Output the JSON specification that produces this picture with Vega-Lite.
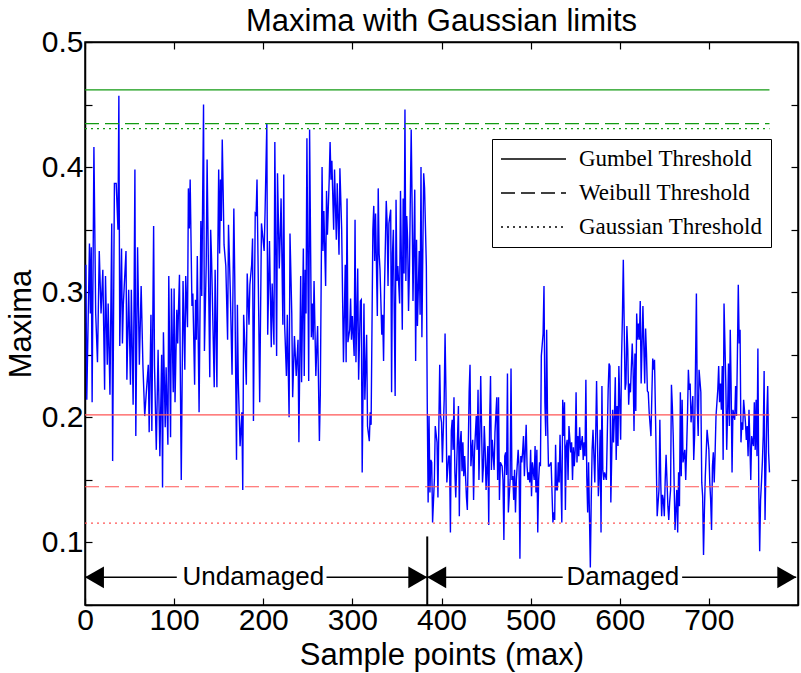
{
  "$schema": "https://vega.github.io/schema/vega-lite/v6.json",
  "width": 713,
  "height": 563,
  "autosize": "none",
  "padding": {"left": 85, "top": 42, "right": 3, "bottom": 68},
  "background": "white",
  "title": {"text": "Maxima with Gaussian limits", "fontSize": 31, "font": "Liberation Sans", "fontWeight": "normal", "color": "black", "offset": -11},
  "config": {
    "view": {"stroke": "black", "strokeWidth": 1.5},
    "axis": {"domainColor": "black", "domainWidth": 1.5, "tickColor": "black", "tickSize": -7, "tickWidth": 1.2, "labelFont": "Liberation Sans", "labelFontSize": 30, "labelColor": "black", "titleFont": "Liberation Sans", "titleFontSize": 31, "titleFontWeight": "normal", "titleColor": "black", "grid": false, "labelOverlap": false, "labelFlush": false}
  },
  "datasets": {
    "series": [
{"x":1,"y":0.322},{"x":2,"y":0.214},{"x":5,"y":0.339},{"x":6,"y":0.283},{"x":7,"y":0.336},{"x":8,"y":0.212},{"x":10,"y":0.416},{"x":12,"y":0.283},{"x":14,"y":0.244},{"x":16,"y":0.333},{"x":18,"y":0.283},{"x":20,"y":0.318},{"x":22,"y":0.222},{"x":23,"y":0.313},{"x":25,"y":0.242},{"x":26,"y":0.291},{"x":28,"y":0.218},{"x":30,"y":0.355},{"x":31,"y":0.165},{"x":33,"y":0.387},{"x":35,"y":0.387},{"x":37,"y":0.350},{"x":38,"y":0.457},{"x":39,"y":0.257},{"x":41,"y":0.335},{"x":42,"y":0.259},{"x":43,"y":0.290},{"x":46,"y":0.333},{"x":47,"y":0.230},{"x":49,"y":0.302},{"x":51,"y":0.226},{"x":52,"y":0.302},{"x":54,"y":0.210},{"x":55,"y":0.289},{"x":56,"y":0.398},{"x":57,"y":0.185},{"x":59,"y":0.336},{"x":61,"y":0.242},{"x":63,"y":0.305},{"x":65,"y":0.241},{"x":67,"y":0.201},{"x":69,"y":0.222},{"x":71,"y":0.242},{"x":72,"y":0.188},{"x":74,"y":0.282},{"x":75,"y":0.189},{"x":77,"y":0.353},{"x":78,"y":0.241},{"x":80,"y":0.174},{"x":82,"y":0.254},{"x":84,"y":0.169},{"x":86,"y":0.250},{"x":87,"y":0.144},{"x":88,"y":0.268},{"x":90,"y":0.192},{"x":91,"y":0.240},{"x":93,"y":0.178},{"x":94,"y":0.313},{"x":96,"y":0.184},{"x":97,"y":0.303},{"x":99,"y":0.220},{"x":100,"y":0.303},{"x":101,"y":0.212},{"x":103,"y":0.286},{"x":104,"y":0.259},{"x":105,"y":0.289},{"x":106,"y":0.314},{"x":108,"y":0.150},{"x":110,"y":0.309},{"x":112,"y":0.238},{"x":113,"y":0.313},{"x":115,"y":0.272},{"x":116,"y":0.383},{"x":117,"y":0.351},{"x":118,"y":0.390},{"x":120,"y":0.289},{"x":121,"y":0.299},{"x":123,"y":0.226},{"x":124,"y":0.294},{"x":125,"y":0.262},{"x":126,"y":0.329},{"x":128,"y":0.204},{"x":130,"y":0.357},{"x":131,"y":0.297},{"x":133,"y":0.450},{"x":134,"y":0.253},{"x":136,"y":0.322},{"x":137,"y":0.406},{"x":140,"y":0.232},{"x":141,"y":0.350},{"x":142,"y":0.327},{"x":145,"y":0.224},{"x":146,"y":0.318},{"x":148,"y":0.224},{"x":149,"y":0.331},{"x":150,"y":0.398},{"x":151,"y":0.331},{"x":152,"y":0.390},{"x":153,"y":0.357},{"x":154,"y":0.422},{"x":155,"y":0.381},{"x":156,"y":0.338},{"x":158,"y":0.321},{"x":160,"y":0.262},{"x":161,"y":0.354},{"x":163,"y":0.302},{"x":165,"y":0.234},{"x":167,"y":0.367},{"x":168,"y":0.313},{"x":170,"y":0.166},{"x":171,"y":0.290},{"x":172,"y":0.229},{"x":174,"y":0.177},{"x":176,"y":0.204},{"x":177,"y":0.142},{"x":178,"y":0.282},{"x":180,"y":0.248},{"x":181,"y":0.226},{"x":182,"y":0.315},{"x":184,"y":0.274},{"x":185,"y":0.306},{"x":187,"y":0.322},{"x":188,"y":0.343},{"x":189,"y":0.197},{"x":191,"y":0.363},{"x":192,"y":0.362},{"x":193,"y":0.390},{"x":195,"y":0.277},{"x":196,"y":0.212},{"x":198,"y":0.355},
{"x":201,"y":0.333},{"x":202,"y":0.363},{"x":204,"y":0.435},{"x":205,"y":0.266},{"x":207,"y":0.341},{"x":209,"y":0.256},{"x":210,"y":0.307},{"x":212,"y":0.258},{"x":213,"y":0.420},{"x":215,"y":0.249},{"x":216,"y":0.395},{"x":218,"y":0.319},{"x":219,"y":0.345},{"x":220,"y":0.375},{"x":222,"y":0.274},{"x":223,"y":0.394},{"x":224,"y":0.274},{"x":226,"y":0.233},{"x":227,"y":0.282},{"x":229,"y":0.200},{"x":230,"y":0.347},{"x":232,"y":0.283},{"x":233,"y":0.216},{"x":235,"y":0.265},{"x":237,"y":0.233},{"x":239,"y":0.262},{"x":240,"y":0.180},{"x":242,"y":0.313},{"x":243,"y":0.228},{"x":245,"y":0.335},{"x":246,"y":0.233},{"x":247,"y":0.318},{"x":248,"y":0.283},{"x":249,"y":0.423},{"x":251,"y":0.229},{"x":252,"y":0.430},{"x":254,"y":0.264},{"x":255,"y":0.291},{"x":256,"y":0.262},{"x":257,"y":0.309},{"x":259,"y":0.233},{"x":260,"y":0.254},{"x":261,"y":0.273},{"x":263,"y":0.181},{"x":264,"y":0.218},{"x":266,"y":0.400},{"x":267,"y":0.333},{"x":268,"y":0.365},{"x":270,"y":0.305},{"x":271,"y":0.381},{"x":272,"y":0.346},{"x":274,"y":0.390},{"x":275,"y":0.420},{"x":276,"y":0.390},{"x":277,"y":0.405},{"x":279,"y":0.350},{"x":280,"y":0.398},{"x":282,"y":0.342},{"x":283,"y":0.387},{"x":285,"y":0.330},{"x":286,"y":0.399},{"x":288,"y":0.350},{"x":290,"y":0.244},{"x":292,"y":0.322},{"x":293,"y":0.244},{"x":294,"y":0.375},{"x":295,"y":0.260},{"x":297,"y":0.270},{"x":298,"y":0.295},{"x":299,"y":0.262},{"x":300,"y":0.281},{"x":302,"y":0.249},{"x":303,"y":0.358},{"x":304,"y":0.244},{"x":306,"y":0.319},{"x":307,"y":0.230},{"x":309,"y":0.293},{"x":310,"y":0.294},{"x":311,"y":0.156},{"x":313,"y":0.291},{"x":314,"y":0.214},{"x":316,"y":0.266},{"x":317,"y":0.193},{"x":319,"y":0.181},{"x":320,"y":0.204},{"x":321,"y":0.194},{"x":323,"y":0.350},{"x":324,"y":0.369},{"x":325,"y":0.325},{"x":326,"y":0.363},{"x":328,"y":0.281},{"x":329,"y":0.383},{"x":330,"y":0.331},{"x":331,"y":0.318},{"x":333,"y":0.266},{"x":334,"y":0.282},{"x":335,"y":0.245},{"x":336,"y":0.302},{"x":338,"y":0.373},{"x":339,"y":0.355},{"x":340,"y":0.305},{"x":341,"y":0.355},{"x":343,"y":0.366},{"x":344,"y":0.220},{"x":345,"y":0.331},{"x":346,"y":0.350},{"x":348,"y":0.217},{"x":349,"y":0.374},{"x":350,"y":0.309},{"x":351,"y":0.321},{"x":353,"y":0.291},{"x":354,"y":0.381},{"x":356,"y":0.270},{"x":357,"y":0.375},{"x":358,"y":0.315},{"x":359,"y":0.446},{"x":360,"y":0.309},{"x":361,"y":0.361},{"x":362,"y":0.342},{"x":363,"y":0.285},{"x":364,"y":0.317},{"x":366,"y":0.430},{"x":367,"y":0.371},{"x":368,"y":0.293},{"x":370,"y":0.382},{"x":371,"y":0.245},{"x":372,"y":0.342},{"x":373,"y":0.273},{"x":375,"y":0.333},{"x":376,"y":0.282},{"x":377,"y":0.400},{"x":378,"y":0.264},{"x":380,"y":0.395},{"x":381,"y":0.383},{"x":383,"y":0.321},{"x":384,"y":0.212},
{"x":385,"y":0.132},{"x":386,"y":0.201},{"x":387,"y":0.140},{"x":388,"y":0.166},{"x":389,"y":0.164},{"x":390,"y":0.116},{"x":392,"y":0.150},{"x":393,"y":0.193},{"x":395,"y":0.180},{"x":396,"y":0.136},{"x":397,"y":0.193},{"x":398,"y":0.242},{"x":399,"y":0.201},{"x":400,"y":0.196},{"x":401,"y":0.164},{"x":403,"y":0.214},{"x":404,"y":0.267},{"x":405,"y":0.220},{"x":406,"y":0.148},{"x":408,"y":0.169},{"x":409,"y":0.169},{"x":410,"y":0.108},{"x":411,"y":0.189},{"x":412,"y":0.198},{"x":413,"y":0.174},{"x":414,"y":0.216},{"x":415,"y":0.156},{"x":416,"y":0.136},{"x":418,"y":0.185},{"x":419,"y":0.209},{"x":420,"y":0.121},{"x":421,"y":0.180},{"x":422,"y":0.189},{"x":423,"y":0.157},{"x":424,"y":0.180},{"x":425,"y":0.153},{"x":426,"y":0.169},{"x":428,"y":0.136},{"x":429,"y":0.126},{"x":430,"y":0.174},{"x":431,"y":0.220},{"x":432,"y":0.242},{"x":433,"y":0.161},{"x":434,"y":0.174},{"x":435,"y":0.182},{"x":436,"y":0.134},{"x":437,"y":0.172},{"x":439,"y":0.201},{"x":440,"y":0.174},{"x":441,"y":0.222},{"x":442,"y":0.150},{"x":443,"y":0.184},{"x":444,"y":0.233},{"x":446,"y":0.148},{"x":447,"y":0.161},{"x":448,"y":0.193},{"x":449,"y":0.174},{"x":450,"y":0.142},{"x":452,"y":0.177},{"x":453,"y":0.114},{"x":454,"y":0.196},{"x":455,"y":0.233},{"x":456,"y":0.158},{"x":457,"y":0.182},{"x":459,"y":0.158},{"x":460,"y":0.188},{"x":462,"y":0.216},{"x":463,"y":0.150},{"x":464,"y":0.216},{"x":465,"y":0.134},{"x":466,"y":0.164},{"x":468,"y":0.161},{"x":469,"y":0.150},{"x":470,"y":0.102},{"x":471,"y":0.169},{"x":472,"y":0.172},{"x":473,"y":0.154},{"x":474,"y":0.235},{"x":475,"y":0.124},{"x":477,"y":0.150},{"x":478,"y":0.239},{"x":479,"y":0.150},{"x":480,"y":0.153},{"x":481,"y":0.134},{"x":482,"y":0.158},{"x":483,"y":0.124},{"x":484,"y":0.150},{"x":486,"y":0.174},{"x":487,"y":0.161},{"x":488,"y":0.087},{"x":489,"y":0.169},{"x":490,"y":0.164},{"x":491,"y":0.172},{"x":492,"y":0.185},{"x":493,"y":0.153},{"x":495,"y":0.194},{"x":496,"y":0.161},{"x":497,"y":0.150},{"x":498,"y":0.156},{"x":499,"y":0.148},{"x":500,"y":0.174},{"x":501,"y":0.137},{"x":502,"y":0.164},{"x":504,"y":0.150},{"x":505,"y":0.177},{"x":506,"y":0.140},{"x":507,"y":0.174},{"x":508,"y":0.108},{"x":509,"y":0.150},{"x":510,"y":0.164},{"x":511,"y":0.161},{"x":512,"y":0.249},{"x":514,"y":0.267},{"x":515,"y":0.305},{"x":516,"y":0.212},{"x":517,"y":0.185},{"x":518,"y":0.270},{"x":519,"y":0.196},{"x":520,"y":0.161},{"x":521,"y":0.161},{"x":523,"y":0.164},{"x":524,"y":0.140},{"x":525,"y":0.116},{"x":526,"y":0.124},{"x":527,"y":0.118},{"x":528,"y":0.178},{"x":529,"y":0.142},{"x":530,"y":0.142},{"x":531,"y":0.164},{"x":532,"y":0.148},{"x":533,"y":0.186},{"x":535,"y":0.116},{"x":536,"y":0.214},{"x":537,"y":0.185},{"x":538,"y":0.212},{"x":539,"y":0.126},{"x":540,"y":0.177},{"x":541,"y":0.182},{"x":542,"y":0.150},{"x":543,"y":0.193},{"x":545,"y":0.172},{"x":546,"y":0.180},{"x":547,"y":0.150},{"x":548,"y":0.176},{"x":549,"y":0.161},{"x":550,"y":0.174},{"x":551,"y":0.220},{"x":552,"y":0.164},{"x":553,"y":0.185},{"x":554,"y":0.169},{"x":555,"y":0.192},{"x":556,"y":0.174},{"x":558,"y":0.185},{"x":559,"y":0.166},{"x":560,"y":0.180},{"x":561,"y":0.169},{"x":562,"y":0.230},{"x":563,"y":0.153},{"x":564,"y":0.124},{"x":565,"y":0.164},{"x":567,"y":0.080},{"x":568,"y":0.134},{"x":569,"y":0.174},{"x":570,"y":0.190},{"x":571,"y":0.169},{"x":572,"y":0.148},{"x":573,"y":0.185},{"x":574,"y":0.229},{"x":576,"y":0.137},{"x":577,"y":0.153},{"x":578,"y":0.190},{"x":579,"y":0.108},{"x":580,"y":0.225},{"x":581,"y":0.158},{"x":582,"y":0.150},{"x":583,"y":0.156},{"x":585,"y":0.150},{"x":586,"y":0.185},{"x":587,"y":0.222},{"x":588,"y":0.243},
{"x":589,"y":0.241},{"x":590,"y":0.132},{"x":592,"y":0.206},{"x":593,"y":0.180},{"x":594,"y":0.201},{"x":595,"y":0.232},{"x":596,"y":0.166},{"x":597,"y":0.209},{"x":598,"y":0.177},{"x":599,"y":0.241},{"x":601,"y":0.182},{"x":602,"y":0.246},{"x":603,"y":0.281},{"x":604,"y":0.326},{"x":605,"y":0.273},{"x":606,"y":0.222},{"x":607,"y":0.227},{"x":608,"y":0.273},{"x":609,"y":0.254},{"x":610,"y":0.210},{"x":611,"y":0.227},{"x":612,"y":0.220},{"x":614,"y":0.259},{"x":615,"y":0.238},{"x":616,"y":0.189},{"x":617,"y":0.251},{"x":618,"y":0.205},{"x":619,"y":0.283},{"x":620,"y":0.262},{"x":621,"y":0.275},{"x":622,"y":0.262},{"x":623,"y":0.293},{"x":624,"y":0.227},{"x":626,"y":0.289},{"x":627,"y":0.257},{"x":628,"y":0.227},{"x":629,"y":0.271},{"x":630,"y":0.251},{"x":631,"y":0.221},{"x":632,"y":0.220},{"x":633,"y":0.204},{"x":635,"y":0.185},{"x":636,"y":0.217},{"x":637,"y":0.247},{"x":638,"y":0.238},{"x":639,"y":0.246},{"x":640,"y":0.206},{"x":641,"y":0.164},{"x":642,"y":0.121},{"x":644,"y":0.142},{"x":645,"y":0.198},{"x":646,"y":0.148},{"x":647,"y":0.121},{"x":648,"y":0.138},{"x":649,"y":0.134},{"x":650,"y":0.121},{"x":651,"y":0.150},{"x":652,"y":0.170},{"x":654,"y":0.129},{"x":655,"y":0.118},{"x":656,"y":0.132},{"x":657,"y":0.142},{"x":658,"y":0.226},{"x":659,"y":0.209},{"x":660,"y":0.185},{"x":661,"y":0.148},{"x":662,"y":0.110},{"x":664,"y":0.142},{"x":665,"y":0.108},{"x":666,"y":0.156},{"x":667,"y":0.129},{"x":668,"y":0.220},{"x":669,"y":0.153},{"x":670,"y":0.214},{"x":671,"y":0.164},{"x":673,"y":0.174},{"x":674,"y":0.150},{"x":675,"y":0.174},{"x":676,"y":0.201},{"x":677,"y":0.238},{"x":678,"y":0.222},{"x":679,"y":0.227},{"x":680,"y":0.196},{"x":682,"y":0.217},{"x":683,"y":0.166},{"x":684,"y":0.185},{"x":685,"y":0.241},{"x":686,"y":0.299},{"x":687,"y":0.209},{"x":688,"y":0.185},{"x":689,"y":0.238},{"x":691,"y":0.220},{"x":692,"y":0.148},{"x":693,"y":0.137},{"x":694,"y":0.090},{"x":695,"y":0.126},{"x":696,"y":0.153},{"x":697,"y":0.172},{"x":698,"y":0.190},{"x":700,"y":0.174},{"x":701,"y":0.148},{"x":702,"y":0.134},{"x":703,"y":0.110},{"x":704,"y":0.161},{"x":705,"y":0.172},{"x":706,"y":0.148},{"x":707,"y":0.172},{"x":708,"y":0.201},{"x":710,"y":0.222},{"x":711,"y":0.241},{"x":712,"y":0.212},{"x":713,"y":0.227},{"x":714,"y":0.206},{"x":715,"y":0.241},{"x":716,"y":0.166},{"x":717,"y":0.291},{"x":719,"y":0.227},{"x":720,"y":0.174},{"x":721,"y":0.204},{"x":722,"y":0.243},{"x":723,"y":0.193},{"x":724,"y":0.270},{"x":725,"y":0.222},{"x":726,"y":0.156},{"x":727,"y":0.206},{"x":729,"y":0.198},{"x":730,"y":0.225},{"x":731,"y":0.201},{"x":732,"y":0.249},{"x":733,"y":0.306},{"x":734,"y":0.259},{"x":735,"y":0.270},{"x":736,"y":0.180},{"x":737,"y":0.196},{"x":738,"y":0.190},{"x":739,"y":0.214},{"x":741,"y":0.196},{"x":742,"y":0.182},{"x":743,"y":0.193},{"x":744,"y":0.169},{"x":745,"y":0.206},{"x":746,"y":0.180},{"x":747,"y":0.150},{"x":748,"y":0.185},{"x":750,"y":0.177},{"x":751,"y":0.212},{"x":752,"y":0.174},{"x":753,"y":0.214},{"x":754,"y":0.169},{"x":755,"y":0.255},{"x":756,"y":0.142},{"x":757,"y":0.093},{"x":758,"y":0.134},{"x":759,"y":0.148},{"x":760,"y":0.164},{"x":761,"y":0.185},{"x":762,"y":0.237},{"x":763,"y":0.118},{"x":765,"y":0.201},{"x":766,"y":0.225},{"x":767,"y":0.172},{"x":768,"y":0.156}
    ],
    "thresholds": [
      {"set": "undamaged", "type": "Gumbel Threshold", "v": 0.4617, "start": 0, "end": 768},
      {"set": "undamaged", "type": "Weibull Threshold", "v": 0.4348, "start": 0, "end": 768},
      {"set": "undamaged", "type": "Gaussian Threshold", "v": 0.4308, "start": 0, "end": 768},
      {"set": "damaged", "type": "Gumbel Threshold", "v": 0.2020, "start": 0, "end": 768},
      {"set": "damaged", "type": "Weibull Threshold", "v": 0.1445, "start": 0, "end": 768},
      {"set": "damaged", "type": "Gaussian Threshold", "v": 0.1155, "start": 0, "end": 768}
    ],
    "segments": [
      {"a": 0, "b": 103, "v": 0.0721},
      {"a": 271, "b": 384, "v": 0.0721},
      {"a": 384, "b": 536, "v": 0.0721},
      {"a": 670, "b": 798, "v": 0.0721}
    ],
    "heads": [
      {"x": 10.6, "dir": "left", "v": 0.0721},
      {"x": 373.4, "dir": "right", "v": 0.0721},
      {"x": 394.6, "dir": "left", "v": 0.0721},
      {"x": 787.4, "dir": "right", "v": 0.0721}
    ],
    "labels": [
      {"x": 188.8, "t": "Undamaged", "v": 0.0721},
      {"x": 603.4, "t": "Damaged", "v": 0.0721}
    ],
    "divider": [
      {"x": 384, "lo": 0.05, "hi": 0.1048}
    ]
  },
  "layer": [
    {
      "data": {"name": "series"},
      "mark": {"type": "line", "color": "#0000ff", "strokeWidth": 1.4},
      "encoding": {
        "x": {"field": "x", "type": "quantitative", "scale": {"domain": [0, 800], "nice": false, "zero": false},
              "axis": {"orient": "bottom", "values": [0,100,200,300,400,500,600,700], "title": "Sample points (max)", "labelPadding": 7, "titlePadding": 5}},
        "y": {"field": "y", "type": "quantitative", "scale": {"domain": [0.05, 0.5], "nice": false, "zero": false},
              "axis": {"orient": "left", "values": [0.05,0.1,0.15,0.2,0.25,0.3,0.35,0.4,0.45,0.5], "labelExpr": "abs(datum.value*10 - round(datum.value*10)) < 0.001 && datum.value > 0.06 ? format(datum.value, '.1f') : ''", "title": "Maxima", "labelPadding": 9, "titlePadding": 4}}
      }
    },
    {
      "data": {"name": "thresholds"},
      "mark": {"type": "rule", "strokeWidth": 1.2},
      "encoding": {
        "x": {"field": "start", "type": "quantitative", "axis": {"orient": "top", "values": [0,100,200,300,400,500,600,700], "labels": false, "title": null}},
        "x2": {"field": "end"},
        "y": {"field": "v", "type": "quantitative", "axis": {"orient": "right", "values": [0.05,0.1,0.15,0.2,0.25,0.3,0.35,0.4,0.45,0.5], "labels": false, "title": null}},
        "color": {"field": "set", "type": "nominal", "scale": {"domain": ["undamaged", "damaged"], "range": ["#139a13", "#ff5555"]}, "legend": null},
        "strokeDash": {"field": "type", "type": "nominal",
          "scale": {"domain": ["Gumbel Threshold", "Weibull Threshold", "Gaussian Threshold"], "range": [[1, 0], [14, 6], [2, 4]]},
          "legend": {"title": null, "orient": "none", "legendX": 407, "legendY": 97, "symbolType": "stroke", "symbolSize": 4225, "symbolStrokeColor": "black", "symbolStrokeWidth": 1.5, "labelFont": "Liberation Serif", "labelFontSize": 23, "labelColor": "black", "labelOffset": 12, "rowPadding": 10, "padding": 8, "strokeColor": "black", "fillColor": "white", "labelLimit": 300,
            "encode": {"symbols": {"update": {"y": {"value": 12}}}, "labels": {"update": {"y": {"value": 12}}}}}}
      }
    },
    {
      "data": {"name": "segments"},
      "mark": {"type": "rule", "color": "black", "strokeWidth": 1.5},
      "encoding": {
        "x": {"field": "a", "type": "quantitative", "axis": null},
        "x2": {"field": "b"},
        "y": {"field": "v", "type": "quantitative", "axis": null}
      }
    },
    {
      "data": {"name": "divider"},
      "mark": {"type": "rule", "color": "black", "strokeWidth": 2},
      "encoding": {
        "x": {"field": "x", "type": "quantitative", "axis": null},
        "y": {"field": "lo", "type": "quantitative", "axis": null},
        "y2": {"field": "hi"}
      }
    },
    {
      "data": {"name": "heads"},
      "mark": {"type": "point", "filled": true, "color": "black", "size": 480, "opacity": 1},
      "encoding": {
        "x": {"field": "x", "type": "quantitative", "axis": null},
        "y": {"field": "v", "type": "quantitative", "axis": null},
        "shape": {"field": "dir", "type": "nominal", "scale": {"domain": ["left", "right"], "range": ["triangle-left", "triangle-right"]}, "legend": null}
      }
    },
    {
      "data": {"name": "labels"},
      "mark": {"type": "text", "font": "Liberation Sans", "fontSize": 26, "color": "black", "baseline": "middle", "align": "center"},
      "encoding": {
        "x": {"field": "x", "type": "quantitative", "axis": null},
        "y": {"field": "v", "type": "quantitative", "axis": null},
        "text": {"field": "t"}
      }
    }
  ]
}
